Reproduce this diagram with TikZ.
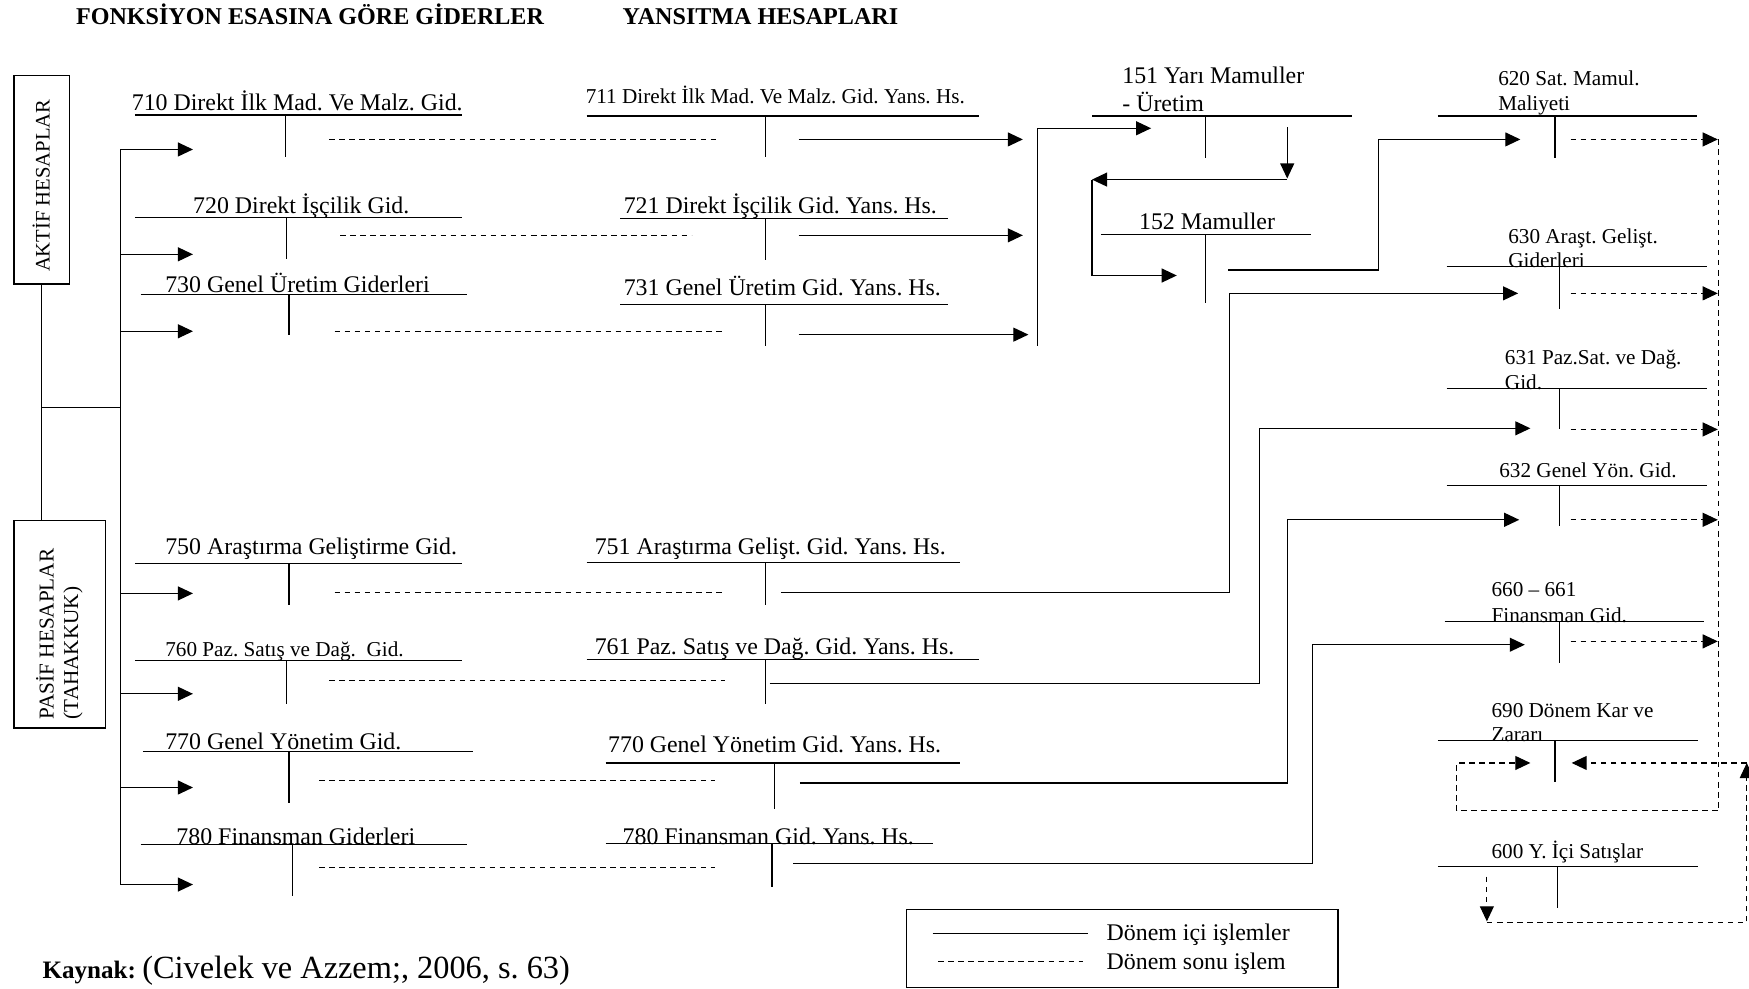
\documentclass[tikz,border=0pt]{standalone}
\usepackage{fontspec}
\setmainfont{Liberation Serif}
\usetikzlibrary{arrows.meta}
\frenchspacing

% T-account: name, left x, right x, line y, stem x, stem bottom y
\newcommand\tacct[6]{%
  \coordinate (#1-l) at (#2,#4);
  \coordinate (#1-r) at (#3,#4);
  \coordinate (#1-t) at (#5,#4);
  \coordinate (#1-b) at (#5,#6);
  \draw[ln] (#1-l) -- (#1-r);
  \draw[ln] (#1-t) -- (#1-b);
}

\begin{document}
\begin{tikzpicture}[x=1pt,y=-1pt,
  ln/.style={line width=1.1pt},
  arr/.style={ln,-{Triangle[length=13.5pt,width=12.5pt]}},
  dsh/.style={line width=1pt,dash pattern=on 5pt off 4pt},
  darr/.style={dsh,-{Triangle[length=13.5pt,width=12.5pt]}},
  lbl/.style={inner sep=0pt,anchor=base west,font=\fontsize{21.4}{24}\selectfont},
  slbl/.style={lbl,font=\fontsize{19}{22}\selectfont},
  ttl/.style={lbl,font=\bfseries\fontsize{21.6}{24}\selectfont},
  box/.style={draw,ln,inner sep=0pt,anchor=north west},
]
\useasboundingbox (0,0) rectangle (1568,886);

% ---------- headings ----------
\node[ttl] (head1) at (68,22) {FONKSİYON ESASINA GÖRE GİDERLER};
\node[ttl] (head2) at (558,22) {YANSITMA HESAPLARI};

% ---------- source boxes ----------
\node[box,minimum width=50pt,minimum height=187pt] (aktif) at (12,67) {};
\node[rotate=90,anchor=base west,inner sep=0pt,font=\fontsize{18.5}{20}\selectfont]
  (aktiftxt) at (44.5,244) {AKTİF HESAPLAR};
\node[box,minimum width=82pt,minimum height=186pt] (pasif) at (12,466) {};
\node[rotate=90,anchor=base west,inner sep=0pt,font=\fontsize{19}{22}\selectfont]
  (pasiftxt1) at (48,645) {PASİF HESAPLAR};
\node[rotate=90,anchor=base west,inner sep=0pt,font=\fontsize{19}{22}\selectfont]
  (pasiftxt2) at (70,645) {(TAHAKKUK)};

\coordinate (join) at (38,365);
\coordinate (bus) at (108,365);
\coordinate (bustop) at (108,134);
\coordinate (busbot) at (108,793);
\draw[ln] (aktif.south) -- (aktif.south |- pasif.north);
\draw[ln] (join) -- (bus);
\draw[ln] (bustop) -- (busbot);

% ---------- function expense accounts ----------
\node[lbl] (n710) at (118,99) {710 Direkt İlk Mad. Ve Malz. Gid.};
\tacct{a710}{121}{414}{103}{256}{141}
\node[lbl] (n720) at (173,191) {720 Direkt İşçilik Gid.};
\tacct{a720}{121}{414}{195}{257}{232}
\node[lbl] (n730) at (148,262) {730 Genel Üretim Giderleri};
\tacct{a730}{126}{419}{264}{259}{300}
\node[lbl] (n750) at (148,497) {750 Araştırma Geliştirme Gid.};
\tacct{a750}{121}{414}{505}{259}{542}
\node[slbl] (n760) at (148,589) {760 Paz. Satış ve Dağ.\ \ Gid.};
\tacct{a760}{121}{414}{592}{257}{631}
\node[lbl] (n770) at (148,672) {770 Genel Yönetim Gid.};
\tacct{a770}{128}{424}{674}{259}{720}
\node[lbl] (n780) at (158,757) {780 Finansman Giderleri};
\tacct{a780}{126}{419}{757}{262}{803}

% accruals flowing in from the bus
\coordinate (in710) at (173,134);
\coordinate (in720) at (173,228);
\coordinate (in730) at (173,297);
\coordinate (in750) at (173,532);
\coordinate (in760) at (173,622);
\coordinate (in770) at (173,706);
\coordinate (in780) at (173,793);
\foreach \k in {710,720,730,750,760,770,780}
  \draw[arr] (in\k -| bus) -- (in\k);

% ---------- reflection accounts ----------
\node[slbl] (n711) at (525,93) {711 Direkt İlk Mad. Ve Malz. Gid. Yans. Hs.};
\tacct{m711}{526}{878}{104}{686}{141}
\node[lbl] (n721) at (559,191) {721 Direkt İşçilik Gid. Yans. Hs.};
\tacct{m721}{556}{850}{196}{686}{233}
\node[lbl] (n731) at (559,265) {731 Genel Üretim Gid. Yans. Hs.};
\tacct{m731}{556}{850}{273}{686}{310}
\node[lbl] (n751) at (533,497) {751 Araştırma Gelişt. Gid. Yans. Hs.};
\tacct{m751}{526}{861}{504}{686}{542}
\node[lbl] (n761) at (533,587) {761 Paz. Satış ve Dağ. Gid. Yans. Hs.};
\tacct{m761}{526}{878}{591}{686}{631}
\node[lbl] (n770y) at (545,675) {770 Genel Yönetim Gid. Yans. Hs.};
\tacct{m770}{543}{861}{684}{694}{725}
\node[lbl] (n780y) at (558,757) {780 Finansman Gid. Yans. Hs.};
\tacct{m780}{543}{836}{756}{692}{795}

% period-end closing entries (dashed)
\foreach \a/\m/\y/\xa/\xb in {a710/m711/125/295/642, a720/m721/211/305/620,
    a730/m731/297/300/648, a750/m751/531/300/648, a760/m761/610/295/650,
    a770/m770/700/286/641, a780/m780/778/286/641} {
  \coordinate (\a-cl) at (\xa,\y);
  \coordinate (\m-cl) at (\xb,\y);
  \draw[dsh] (\a-cl) -- (\m-cl);
}

% ---------- production accounts ----------
\node[lbl] (n151) at (1006,75) {151 Yarı Mamuller};
\node[lbl] (n151b) at (1006,100) {- Üretim};
\tacct{h151}{979}{1212}{104}{1081}{142}
\node[lbl] (n152) at (1021,206) {152 Mamuller};
\tacct{h152}{987}{1175}{210}{1081}{272}

\coordinate (m711-o) at (716,125);
\coordinate (m721-o) at (716,211);
\coordinate (m731-o) at (716,300);
\coordinate (col711) at (917,125);
\coordinate (col721) at (917,211);
\coordinate (col731) at (922,300);
\draw[arr] (m711-o) -- (col711);
\draw[arr] (m721-o) -- (col721);
\draw[arr] (m731-o) -- (col731);
\coordinate (colbot) at (930,310);
\coordinate (h151-i) at (1032,115);
\draw[arr] (colbot) |- (h151-i);

\coordinate (h151-o) at (1154,114);
\coordinate (h151-d) at (1154,160);
\draw[arr] (h151-o) -- (h151-d);
\coordinate (tr-r) at (1154,161);
\coordinate (tr-l) at (979,161);
\draw[arr] (tr-r) -- (tr-l);
\coordinate (h152-i) at (1055,247);
\draw[arr] (tr-l) |- (h152-i);

% ---------- income statement accounts ----------
\node[slbl] (n620) at (1343,77) {620 Sat. Mamul.};
\node[slbl] (n620b) at (1343,99) {Maliyeti};
\tacct{r620}{1289}{1521}{104}{1394}{142}
\node[slbl] (n630) at (1352,218) {630 Araşt. Gelişt.};
\node[slbl] (n630b) at (1352,240) {Giderleri};
\tacct{r630}{1297}{1530}{239}{1398}{277}
\node[slbl] (n631) at (1349,327) {631 Paz.Sat. ve Dağ.};
\node[slbl] (n631b) at (1349,349) {Gid.};
\tacct{r631}{1297}{1530}{348}{1398}{385}
\node[slbl] (n632) at (1344,428) {632 Genel Yön. Gid.};
\tacct{r632}{1297}{1530}{435}{1398}{472}
\node[slbl] (n660) at (1337,535) {660 – 661};
\node[slbl] (n660b) at (1337,558) {Finansman Gid.};
\tacct{r660}{1295}{1528}{557}{1398}{594}
\node[slbl] (n690) at (1337,643) {690 Dönem Kar ve};
\node[slbl] (n690b) at (1337,665) {Zararı};
\tacct{r690}{1289}{1522}{664}{1394}{701}
\node[slbl] (n600) at (1337,770) {600 Y. İçi Satışlar};
\tacct{r600}{1289}{1522}{777}{1396}{814}

% transfers into the income statement accounts
\coordinate (h152-o) at (1101,242);
\coordinate (k620) at (1236,125);
\coordinate (r620-i) at (1363,125);
\draw[arr] (h152-o) -| (k620) -- (r620-i);

\coordinate (m751-o) at (700,531);
\coordinate (k630) at (1102,263);
\coordinate (r630-i) at (1361,263);
\draw[arr] (m751-o) -| (k630) -- (r630-i);

\coordinate (m761-o) at (690,613);
\coordinate (k631) at (1129,384);
\coordinate (r631-i) at (1372,384);
\draw[arr] (m761-o) -| (k631) -- (r631-i);

\coordinate (m770-o) at (717,702);
\coordinate (k632) at (1154,466);
\coordinate (r632-i) at (1362,466);
\draw[arr] (m770-o) -| (k632) -- (r632-i);

\coordinate (m780-o) at (711,774);
\coordinate (k660) at (1177,578);
\coordinate (r660-i) at (1367,578);
\draw[arr] (m780-o) -| (k660) -- (r660-i);

% closing to 690
\coordinate (drop) at (1541,125);
\foreach \r/\y in {r620/125, r630/263, r631/385, r632/466, r660/575} {
  \coordinate (\r-o) at (1408,\y);
  \coordinate (\r-x) at (1540,\y);
  \draw[darr] (\r-o) -- (\r-x);
}
\coordinate (loopbr) at (1541,727);
\coordinate (loopl) at (1306,727);
\coordinate (r690-il) at (1372,684);
\draw[darr] (drop) -- (loopbr) -- (loopl) |- (r690-il);

\coordinate (r600-o) at (1333,786);
\coordinate (r600-d) at (1333,826);
\draw[darr] (r600-o) -- (r600-d);
\coordinate (r600-base) at (1333,827);
\coordinate (corner) at (1566,684);
\draw[darr] (r600-base) -| (corner);
\coordinate (r690-ir) at (1409,684);
\draw[darr] (corner) -- (r690-ir);

% ---------- legend ----------
\node[box,minimum width=387pt,minimum height=70pt] (legend) at (812,815) {};
\coordinate (lg1a) at (836,837);
\coordinate (lg1b) at (975,837);
\coordinate (lg2a) at (841,862);
\coordinate (lg2b) at (971,862);
\draw[ln] (lg1a) -- (lg1b);
\draw[dsh] (lg2a) -- (lg2b);
\node[lbl] (lgt1) at (992,843) {Dönem içi işlemler};
\node[lbl] (lgt2) at (992,869) {Dönem sonu işlem};

% ---------- source note ----------
\node[inner sep=0pt,anchor=base west] (src) at (38,877)
  {\fontsize{22.5}{24}\selectfont\bfseries Kaynak: \fontsize{29}{31}\mdseries\selectfont(Civelek ve Azzem;, 2006, s. 63)};
\end{tikzpicture}
\end{document}
